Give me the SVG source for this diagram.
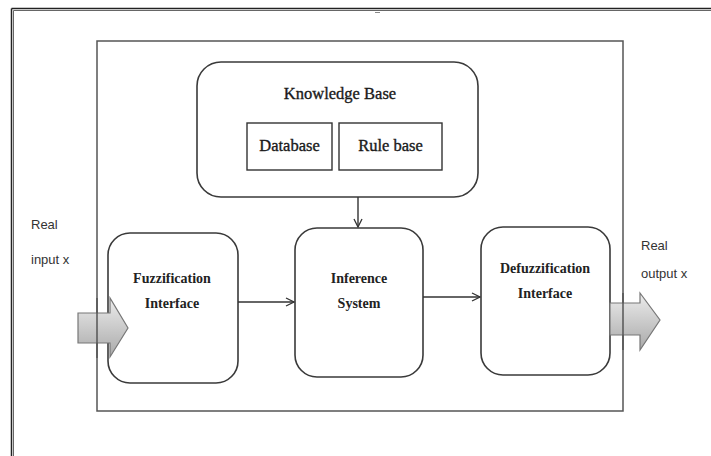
<svg xmlns="http://www.w3.org/2000/svg" width="711" height="456" viewBox="0 0 711 456">
<defs>
<style>
.box{fill:#fff;stroke:#3a3a3a;stroke-width:1.6}
.sq{fill:#fff;stroke:#333;stroke-width:1.4}
.lbl{font-family:"Liberation Serif",serif;font-weight:bold;font-size:14px;fill:#222;text-anchor:middle}
.kb{font-family:"Liberation Serif",serif;font-size:16.5px;fill:#1a1a1a;stroke:#1a1a1a;stroke-width:0.35;text-anchor:middle}
.side{font-family:"Liberation Sans",sans-serif;font-size:13px;fill:#333}
.conn{stroke:#333;stroke-width:1.4;fill:none}
.big{fill:url(#g);stroke:#777;stroke-width:1.2}
</style>
<linearGradient id="g" x1="0" y1="0" x2="0" y2="1">
<stop offset="0" stop-color="#ececec"/>
<stop offset="1" stop-color="#a9a9a9"/>
</linearGradient>
<marker id="ah" markerWidth="10" markerHeight="10" refX="9" refY="5" orient="auto" markerUnits="userSpaceOnUse">
<path d="M1,1 L9,5 L1,9" fill="none" stroke="#333" stroke-width="1.3"/>
</marker>
</defs>
<rect width="711" height="456" fill="#fff"/>
<g id="frame" fill="none">
<line x1="11.5" y1="8.5" x2="711" y2="8.5" stroke="#222" stroke-width="1.5"/>
<line x1="13.5" y1="10.5" x2="711" y2="10.5" stroke="#666" stroke-width="1"/>
<line x1="11.5" y1="8.5" x2="11.5" y2="456" stroke="#222" stroke-width="1.5"/>
<line x1="13.5" y1="10.5" x2="13.5" y2="456" stroke="#666" stroke-width="1"/>
<line x1="375" y1="12.5" x2="380" y2="12.5" stroke="#888" stroke-width="1"/>
</g>
<g id="system">
<rect x="97" y="41" width="526" height="370" fill="none" stroke="#555" stroke-width="1.5"/>
</g>
<g id="knowledge-base">
<rect class="box" x="197" y="62" width="281" height="135" rx="24"/>
<text class="kb" x="340" y="99">Knowledge Base</text>
</g>
<g id="database">
<rect class="sq" x="247" y="123" width="85" height="47"/>
<text class="kb" x="289.5" y="151">Database</text>
</g>
<g id="rule-base">
<rect class="sq" x="339" y="123" width="103" height="47"/>
<text class="kb" x="390.5" y="151">Rule base</text>
</g>
<g id="fuzzification">
<rect class="box" x="108" y="233" width="130" height="150" rx="22"/>
<text class="lbl" x="172" y="283">Fuzzification</text>
<text class="lbl" x="172" y="308">Interface</text>
</g>
<g id="inference">
<rect class="box" x="295" y="228" width="128" height="149" rx="22"/>
<text class="lbl" x="359" y="283">Inference</text>
<text class="lbl" x="359" y="308">System</text>
</g>
<g id="defuzzification">
<rect class="box" x="481" y="227" width="129" height="148" rx="22"/>
<text class="lbl" x="545" y="273">Defuzzification</text>
<text class="lbl" x="545" y="298">Interface</text>
</g>
<g id="input">
<path class="big" d="M78,313 L110,313 L110,298 L128,328 L110,357 L110,343 L78,343 Z"/>
<text class="side" x="31" y="229">Real</text>
<text class="side" x="31" y="264">input x</text>
</g>
<g id="output">
<path class="big" d="M610,303 L640,303 L640,293 L660,320 L640,350 L640,335 L610,335 Z"/>
<text class="side" x="641" y="250">Real</text>
<text class="side" x="641" y="278">output x</text>
</g>
<line x1="97" y1="298" x2="97" y2="358" stroke="#555" stroke-width="1.5"/>
<line x1="623" y1="293" x2="623" y2="350" stroke="#555" stroke-width="1.5"/>
<g id="connectors">
<line class="conn" x1="358" y1="197" x2="358" y2="227" marker-end="url(#ah)"/>
<line class="conn" x1="238" y1="302" x2="294" y2="302" marker-end="url(#ah)"/>
<line class="conn" x1="423" y1="297" x2="480" y2="297" marker-end="url(#ah)"/>
</g>
</svg>
